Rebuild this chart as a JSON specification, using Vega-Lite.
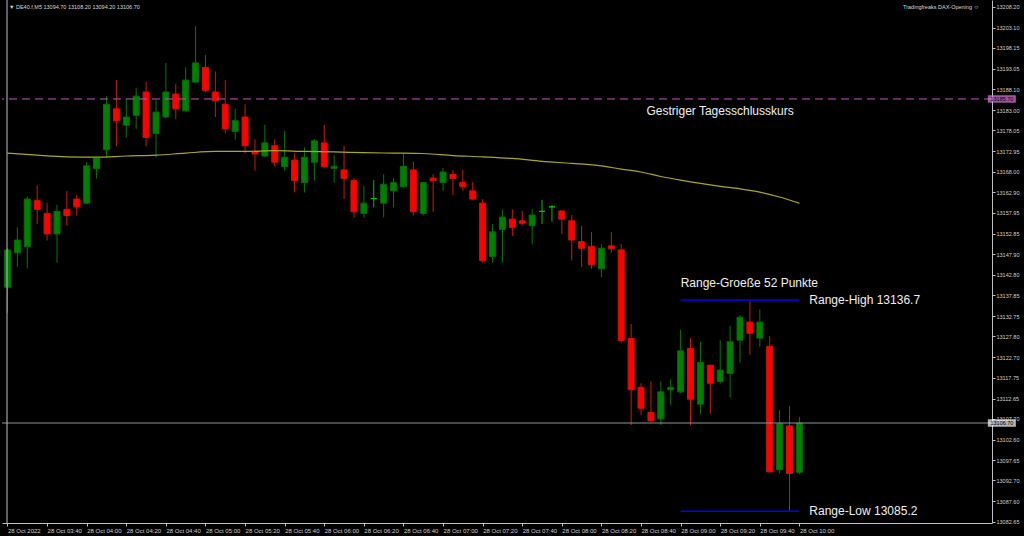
{
  "$schema": "https://vega.github.io/schema/vega-lite/v6.json",
  "width": 990,
  "height": 523,
  "autosize": {"type": "none"},
  "padding": {"left": 2, "top": 0, "right": 32, "bottom": 13},
  "background": "#000000",
  "config": {
    "view": {"stroke": null},
    "axis": {"grid": false, "domainColor": "#c0c0c0", "tickColor": "#c0c0c0", "labelColor": "#d0d0d0", "labelFont": "Liberation Sans", "labelOverlap": false}
  },
  "datasets": {
    "candles": [
      {"t": "2022-10-28T03:20:00", "o": 13139.8, "h": 13149.3, "l": 13133.6, "c": 13148.9},
      {"t": "2022-10-28T03:25:00", "o": 13148.2, "h": 13154.4, "l": 13144.8, "c": 13151.3},
      {"t": "2022-10-28T03:30:00", "o": 13149.7, "h": 13161.9, "l": 13144.4, "c": 13161.3},
      {"t": "2022-10-28T03:35:00", "o": 13160.9, "h": 13164.6, "l": 13155.2, "c": 13158.8},
      {"t": "2022-10-28T03:40:00", "o": 13157.8, "h": 13160.4, "l": 13151.2, "c": 13152.8},
      {"t": "2022-10-28T03:45:00", "o": 13152.8, "h": 13159.9, "l": 13145.8, "c": 13158.3},
      {"t": "2022-10-28T03:50:00", "o": 13158.8, "h": 13163.3, "l": 13154.8, "c": 13157.3},
      {"t": "2022-10-28T03:55:00", "o": 13161.3, "h": 13162.3, "l": 13157.3, "c": 13159.4},
      {"t": "2022-10-28T04:00:00", "o": 13160.3, "h": 13170.3, "l": 13160.1, "c": 13169.4},
      {"t": "2022-10-28T04:05:00", "o": 13168.7, "h": 13171.4, "l": 13166.3, "c": 13171.3},
      {"t": "2022-10-28T04:10:00", "o": 13173.3, "h": 13186.4, "l": 13171.4, "c": 13184.4},
      {"t": "2022-10-28T04:15:00", "o": 13183.3, "h": 13190.3, "l": 13174.2, "c": 13180.4},
      {"t": "2022-10-28T04:20:00", "o": 13179.3, "h": 13185.9, "l": 13176.3, "c": 13181.3},
      {"t": "2022-10-28T04:25:00", "o": 13181.7, "h": 13188.4, "l": 13178.4, "c": 13186.4},
      {"t": "2022-10-28T04:30:00", "o": 13187.4, "h": 13189.9, "l": 13174.2, "c": 13176.3},
      {"t": "2022-10-28T04:35:00", "o": 13177.3, "h": 13185.4, "l": 13171.4, "c": 13182.5},
      {"t": "2022-10-28T04:40:00", "o": 13181.3, "h": 13194.5, "l": 13181.0, "c": 13187.4},
      {"t": "2022-10-28T04:45:00", "o": 13186.9, "h": 13189.4, "l": 13180.8, "c": 13183.3},
      {"t": "2022-10-28T04:50:00", "o": 13182.8, "h": 13193.4, "l": 13182.6, "c": 13190.3},
      {"t": "2022-10-28T04:55:00", "o": 13189.8, "h": 13203.5, "l": 13189.6, "c": 13194.5},
      {"t": "2022-10-28T05:00:00", "o": 13193.4, "h": 13196.4, "l": 13187.3, "c": 13187.8},
      {"t": "2022-10-28T05:05:00", "o": 13187.4, "h": 13192.4, "l": 13181.3, "c": 13185.3},
      {"t": "2022-10-28T05:10:00", "o": 13184.4, "h": 13190.3, "l": 13177.3, "c": 13178.4},
      {"t": "2022-10-28T05:15:00", "o": 13177.8, "h": 13183.3, "l": 13175.8, "c": 13180.4},
      {"t": "2022-10-28T05:20:00", "o": 13181.3, "h": 13184.4, "l": 13172.4, "c": 13174.3},
      {"t": "2022-10-28T05:25:00", "o": 13172.8, "h": 13175.9, "l": 13168.2, "c": 13172.3},
      {"t": "2022-10-28T05:30:00", "o": 13171.8, "h": 13179.4, "l": 13171.5, "c": 13175.0},
      {"t": "2022-10-28T05:35:00", "o": 13174.3, "h": 13175.9, "l": 13169.2, "c": 13170.3},
      {"t": "2022-10-28T05:40:00", "o": 13169.2, "h": 13177.9, "l": 13168.2, "c": 13171.5},
      {"t": "2022-10-28T05:45:00", "o": 13170.8, "h": 13172.5, "l": 13162.9, "c": 13165.8},
      {"t": "2022-10-28T05:50:00", "o": 13165.3, "h": 13173.9, "l": 13162.9, "c": 13171.5},
      {"t": "2022-10-28T05:55:00", "o": 13170.3, "h": 13175.9, "l": 13165.8, "c": 13175.5},
      {"t": "2022-10-28T06:00:00", "o": 13175.0, "h": 13179.4, "l": 13169.0, "c": 13169.2},
      {"t": "2022-10-28T06:05:00", "o": 13168.8, "h": 13172.0, "l": 13165.3, "c": 13169.3},
      {"t": "2022-10-28T06:10:00", "o": 13168.4, "h": 13174.3, "l": 13161.3, "c": 13166.3},
      {"t": "2022-10-28T06:15:00", "o": 13165.8, "h": 13166.4, "l": 13156.8, "c": 13158.2},
      {"t": "2022-10-28T06:20:00", "o": 13157.8, "h": 13164.5, "l": 13156.8, "c": 13160.3},
      {"t": "2022-10-28T06:25:00", "o": 13161.4, "h": 13165.9, "l": 13159.3, "c": 13161.4},
      {"t": "2022-10-28T06:30:00", "o": 13160.3, "h": 13167.4, "l": 13156.8, "c": 13164.9},
      {"t": "2022-10-28T06:35:00", "o": 13163.3, "h": 13166.4, "l": 13159.3, "c": 13165.3},
      {"t": "2022-10-28T06:40:00", "o": 13164.3, "h": 13172.5, "l": 13164.1, "c": 13169.3},
      {"t": "2022-10-28T06:45:00", "o": 13168.4, "h": 13170.4, "l": 13157.3, "c": 13158.2},
      {"t": "2022-10-28T06:50:00", "o": 13157.8, "h": 13165.4, "l": 13157.3, "c": 13165.3},
      {"t": "2022-10-28T06:55:00", "o": 13166.4, "h": 13167.4, "l": 13158.2, "c": 13165.8},
      {"t": "2022-10-28T07:00:00", "o": 13165.3, "h": 13168.9, "l": 13163.3, "c": 13167.9},
      {"t": "2022-10-28T07:05:00", "o": 13167.3, "h": 13168.4, "l": 13162.2, "c": 13166.3},
      {"t": "2022-10-28T07:10:00", "o": 13165.4, "h": 13168.4, "l": 13163.3, "c": 13164.3},
      {"t": "2022-10-28T07:15:00", "o": 13163.3, "h": 13165.4, "l": 13161.1, "c": 13161.3},
      {"t": "2022-10-28T07:20:00", "o": 13160.3, "h": 13161.3, "l": 13145.8, "c": 13146.3},
      {"t": "2022-10-28T07:25:00", "o": 13147.3, "h": 13155.2, "l": 13145.8, "c": 13153.3},
      {"t": "2022-10-28T07:30:00", "o": 13153.9, "h": 13158.8, "l": 13145.8, "c": 13156.9},
      {"t": "2022-10-28T07:35:00", "o": 13156.4, "h": 13158.8, "l": 13152.3, "c": 13154.4},
      {"t": "2022-10-28T07:40:00", "o": 13156.0, "h": 13158.4, "l": 13154.9, "c": 13155.4},
      {"t": "2022-10-28T07:45:00", "o": 13154.8, "h": 13158.8, "l": 13150.3, "c": 13157.4},
      {"t": "2022-10-28T07:50:00", "o": 13158.3, "h": 13161.1, "l": 13155.2, "c": 13158.3},
      {"t": "2022-10-28T07:55:00", "o": 13159.4, "h": 13159.8, "l": 13155.8, "c": 13159.4},
      {"t": "2022-10-28T08:00:00", "o": 13158.4, "h": 13158.5, "l": 13152.8, "c": 13156.4},
      {"t": "2022-10-28T08:05:00", "o": 13156.0, "h": 13157.4, "l": 13146.3, "c": 13151.3},
      {"t": "2022-10-28T08:10:00", "o": 13150.9, "h": 13154.8, "l": 13144.7, "c": 13149.3},
      {"t": "2022-10-28T08:15:00", "o": 13149.8, "h": 13153.3, "l": 13144.3, "c": 13145.3},
      {"t": "2022-10-28T08:20:00", "o": 13144.3, "h": 13150.3, "l": 13142.2, "c": 13149.3},
      {"t": "2022-10-28T08:25:00", "o": 13149.9, "h": 13153.3, "l": 13148.2, "c": 13149.2},
      {"t": "2022-10-28T08:30:00", "o": 13148.9, "h": 13150.3, "l": 13126.3, "c": 13126.8},
      {"t": "2022-10-28T08:35:00", "o": 13127.3, "h": 13130.8, "l": 13106.2, "c": 13114.8},
      {"t": "2022-10-28T08:40:00", "o": 13115.4, "h": 13116.4, "l": 13108.7, "c": 13110.3},
      {"t": "2022-10-28T08:45:00", "o": 13109.3, "h": 13116.8, "l": 13107.0, "c": 13107.2},
      {"t": "2022-10-28T08:50:00", "o": 13107.7, "h": 13116.8, "l": 13106.2, "c": 13114.3},
      {"t": "2022-10-28T08:55:00", "o": 13114.8, "h": 13117.4, "l": 13111.1, "c": 13115.4},
      {"t": "2022-10-28T09:00:00", "o": 13114.3, "h": 13129.4, "l": 13114.0, "c": 13124.3},
      {"t": "2022-10-28T09:05:00", "o": 13124.9, "h": 13127.4, "l": 13106.2, "c": 13112.5},
      {"t": "2022-10-28T09:10:00", "o": 13111.3, "h": 13126.5, "l": 13108.9, "c": 13121.5},
      {"t": "2022-10-28T09:15:00", "o": 13120.8, "h": 13120.9, "l": 13108.9, "c": 13116.4},
      {"t": "2022-10-28T09:20:00", "o": 13116.8, "h": 13126.9, "l": 13116.4, "c": 13119.6},
      {"t": "2022-10-28T09:25:00", "o": 13118.8, "h": 13130.4, "l": 13113.0, "c": 13126.5},
      {"t": "2022-10-28T09:30:00", "o": 13126.9, "h": 13133.0, "l": 13121.4, "c": 13132.5},
      {"t": "2022-10-28T09:35:00", "o": 13131.3, "h": 13136.7, "l": 13123.3, "c": 13128.6},
      {"t": "2022-10-28T09:40:00", "o": 13127.4, "h": 13134.4, "l": 13125.3, "c": 13131.3},
      {"t": "2022-10-28T09:45:00", "o": 13125.4, "h": 13127.9, "l": 13094.6, "c": 13094.8},
      {"t": "2022-10-28T09:50:00", "o": 13095.3, "h": 13109.9, "l": 13094.4, "c": 13106.5},
      {"t": "2022-10-28T09:55:00", "o": 13106.0, "h": 13110.9, "l": 13085.2, "c": 13094.4},
      {"t": "2022-10-28T10:00:00", "o": 13094.7, "h": 13108.2, "l": 13094.2, "c": 13106.7}
    ],
    "ma": [
      {"t": "2022-10-28T03:20:00", "ma": 13172.5},
      {"t": "2022-10-28T03:35:00", "ma": 13172.0},
      {"t": "2022-10-28T03:50:00", "ma": 13171.6},
      {"t": "2022-10-28T04:05:00", "ma": 13171.5},
      {"t": "2022-10-28T04:20:00", "ma": 13171.8},
      {"t": "2022-10-28T04:35:00", "ma": 13172.0},
      {"t": "2022-10-28T04:50:00", "ma": 13172.5},
      {"t": "2022-10-28T05:05:00", "ma": 13172.9},
      {"t": "2022-10-28T05:20:00", "ma": 13172.9},
      {"t": "2022-10-28T05:35:00", "ma": 13173.1},
      {"t": "2022-10-28T05:50:00", "ma": 13172.9},
      {"t": "2022-10-28T06:05:00", "ma": 13172.8},
      {"t": "2022-10-28T06:20:00", "ma": 13172.6},
      {"t": "2022-10-28T06:35:00", "ma": 13172.5},
      {"t": "2022-10-28T06:50:00", "ma": 13172.4},
      {"t": "2022-10-28T07:05:00", "ma": 13171.9},
      {"t": "2022-10-28T07:20:00", "ma": 13171.6},
      {"t": "2022-10-28T07:35:00", "ma": 13171.2},
      {"t": "2022-10-28T07:50:00", "ma": 13170.5},
      {"t": "2022-10-28T08:05:00", "ma": 13170.0},
      {"t": "2022-10-28T08:20:00", "ma": 13169.4},
      {"t": "2022-10-28T08:30:00", "ma": 13168.6},
      {"t": "2022-10-28T08:40:00", "ma": 13167.9},
      {"t": "2022-10-28T08:50:00", "ma": 13166.8},
      {"t": "2022-10-28T09:00:00", "ma": 13165.9},
      {"t": "2022-10-28T09:10:00", "ma": 13165.1},
      {"t": "2022-10-28T09:20:00", "ma": 13164.4},
      {"t": "2022-10-28T09:30:00", "ma": 13163.8},
      {"t": "2022-10-28T09:40:00", "ma": 13163.0},
      {"t": "2022-10-28T09:50:00", "ma": 13161.8},
      {"t": "2022-10-28T10:00:00", "ma": 13160.3}
    ]
  },
  "layer": [
    {
      "data": {"name": "candles"},
      "mark": {"type": "rule", "strokeWidth": 1},
      "encoding": {
        "x": {
          "field": "t", "type": "temporal", "title": null,
          "scale": {"domain": [{"year": 2022, "month": 10, "date": 28, "hours": 3, "minutes": 19, "seconds": 45}, {"year": 2022, "month": 10, "date": 28, "hours": 11, "minutes": 34, "seconds": 45}], "nice": false},
          "axis": {
            "title": null, "orient": "bottom", "tickCount": 100,
            "values": [
              {"year": 2022, "month": 10, "date": 28, "hours": 3, "minutes": 20},
              {"year": 2022, "month": 10, "date": 28, "hours": 3, "minutes": 40},
              {"year": 2022, "month": 10, "date": 28, "hours": 4, "minutes": 0},
              {"year": 2022, "month": 10, "date": 28, "hours": 4, "minutes": 20},
              {"year": 2022, "month": 10, "date": 28, "hours": 4, "minutes": 40},
              {"year": 2022, "month": 10, "date": 28, "hours": 5, "minutes": 0},
              {"year": 2022, "month": 10, "date": 28, "hours": 5, "minutes": 20},
              {"year": 2022, "month": 10, "date": 28, "hours": 5, "minutes": 40},
              {"year": 2022, "month": 10, "date": 28, "hours": 6, "minutes": 0},
              {"year": 2022, "month": 10, "date": 28, "hours": 6, "minutes": 20},
              {"year": 2022, "month": 10, "date": 28, "hours": 6, "minutes": 40},
              {"year": 2022, "month": 10, "date": 28, "hours": 7, "minutes": 0},
              {"year": 2022, "month": 10, "date": 28, "hours": 7, "minutes": 20},
              {"year": 2022, "month": 10, "date": 28, "hours": 7, "minutes": 40},
              {"year": 2022, "month": 10, "date": 28, "hours": 8, "minutes": 0},
              {"year": 2022, "month": 10, "date": 28, "hours": 8, "minutes": 20},
              {"year": 2022, "month": 10, "date": 28, "hours": 8, "minutes": 40},
              {"year": 2022, "month": 10, "date": 28, "hours": 9, "minutes": 0},
              {"year": 2022, "month": 10, "date": 28, "hours": 9, "minutes": 20},
              {"year": 2022, "month": 10, "date": 28, "hours": 9, "minutes": 40},
              {"year": 2022, "month": 10, "date": 28, "hours": 10, "minutes": 0}
            ],
            "labelExpr": "timeFormat(datum.value, '%H:%M') == '03:20' ? '28 Oct 2022' : timeFormat(datum.value, '%d %b %H:%M')",
            "labelAlign": "left", "labelBaseline": "top", "labelPadding": 1, "labelFontSize": 6,
            "labelOverlap": false, "labelFlush": false, "tickSize": 3
          }
        },
        "y": {
          "field": "l", "type": "quantitative", "title": null,
          "scale": {"domain": [13082.32, 13209.83], "zero": false, "nice": false},
          "axis": {
            "title": null, "orient": "right", "tickCount": 100,
            "values": [13208.20, 13203.10, 13198.15, 13193.05, 13188.10, 13183.00, 13178.05, 13172.95, 13168.00, 13162.90, 13157.95, 13152.85, 13147.90, 13142.80, 13137.85, 13132.75, 13127.80, 13122.70, 13117.75, 13112.65, 13107.70, 13102.60, 13097.65, 13092.70, 13087.60, 13082.65],
            "format": ".2f", "labelFontSize": 5.5, "labelPadding": 1, "tickSize": 3,
            "labelOverlap": false, "labelFlush": false, "labelBaseline": "middle"
          }
        },
        "y2": {"field": "h"},
        "color": {
          "condition": [
            {"test": "datum.c == datum.o", "value": "#00c000"},
            {"test": "datum.c > datum.o", "value": "#007a00"}
          ],
          "value": "#d01800"
        }
      }
    },
    {
      "data": {"name": "candles"},
      "mark": {"type": "bar", "size": 6, "strokeWidth": 1},
      "encoding": {
        "x": {"field": "t", "type": "temporal", "title": null},
        "y": {"field": "o", "type": "quantitative", "title": null},
        "y2": {"field": "c"},
        "fill": {
          "condition": [
            {"test": "datum.c == datum.o", "value": "#00c000"},
            {"test": "datum.c > datum.o", "value": "#008000"}
          ],
          "value": "#ff0000"
        },
        "stroke": {
          "condition": [
            {"test": "datum.c == datum.o", "value": "#00c000"},
            {"test": "datum.c > datum.o", "value": "#006e00"}
          ],
          "value": "#d81000"
        }
      }
    },
    {
      "data": {"values": [{"level": "Gestriger Tagesschlusskurs", "price": 13185.7}]},
      "mark": {"type": "rule", "color": "#c850c8", "strokeWidth": 1, "strokeDash": [8, 5]},
      "encoding": {"y": {"field": "price", "type": "quantitative", "title": null}}
    },
    {
      "data": {"values": [{"level": "Aktueller Kurs", "price": 13106.7}]},
      "mark": {"type": "rule", "color": "#8a949e", "strokeWidth": 1},
      "encoding": {"y": {"field": "price", "type": "quantitative", "title": null}}
    },
    {
      "data": {"name": "ma"},
      "mark": {"type": "line", "color": "#a8a81e", "strokeWidth": 1.2, "interpolate": "monotone"},
      "encoding": {
        "x": {"field": "t", "type": "temporal", "title": null},
        "y": {"field": "ma", "type": "quantitative", "title": null}
      }
    },
    {
      "data": {"values": [{"level": "Range-High", "price": 13136.7, "label": "Range-High 13136.7"}, {"level": "Range-Low", "price": 13085.2, "label": "Range-Low 13085.2"}]},
      "layer": [
        {
          "mark": {"type": "rule", "color": "#0000ff", "strokeWidth": 1.6},
          "encoding": {
            "x": {"datum": {"year": 2022, "month": 10, "date": 28, "hours": 9, "minutes": 0}, "title": null},
            "x2": {"datum": {"year": 2022, "month": 10, "date": 28, "hours": 10, "minutes": 0}},
            "y": {"field": "price", "type": "quantitative", "title": null}
          }
        },
        {
          "mark": {"type": "text", "align": "left", "baseline": "middle", "font": "Liberation Sans", "fontSize": 12, "color": "#f0f0f0"},
          "encoding": {
            "x": {"datum": {"year": 2022, "month": 10, "date": 28, "hours": 10, "minutes": 5}, "title": null},
            "y": {"field": "price", "type": "quantitative", "title": null},
            "text": {"field": "label"}
          }
        }
      ]
    },
    {
      "data": {"values": [{"label": "Range-Groeße 52 Punkte"}]},
      "mark": {"type": "text", "align": "left", "baseline": "middle", "font": "Liberation Sans", "fontSize": 12, "color": "#f0f0f0"},
      "encoding": {
        "x": {"datum": {"year": 2022, "month": 10, "date": 28, "hours": 9, "minutes": 0}, "title": null},
        "y": {"datum": 13140.8, "title": null},
        "text": {"field": "label"}
      }
    },
    {
      "data": {"values": [{"label": "Gestriger Tagesschlusskurs"}]},
      "mark": {"type": "text", "align": "left", "baseline": "middle", "font": "Liberation Sans", "fontSize": 12, "color": "#f0f0f0"},
      "encoding": {
        "x": {"datum": {"year": 2022, "month": 10, "date": 28, "hours": 8, "minutes": 42, "seconds": 45}, "title": null},
        "y": {"datum": 13182.8, "title": null},
        "text": {"field": "label"}
      }
    },
    {
      "data": {"values": [{"label": "▼ DE40.f,M5  13094.70 13108.20 13094.20 13106.70"}]},
      "mark": {"type": "text", "align": "left", "baseline": "middle", "font": "Liberation Sans", "fontSize": 5.5, "color": "#d8d8d8"},
      "encoding": {
        "x": {"datum": {"year": 2022, "month": 10, "date": 28, "hours": 3, "minutes": 20, "seconds": 45}, "title": null},
        "y": {"datum": 13208.2, "title": null},
        "text": {"field": "label"}
      }
    },
    {
      "data": {"values": [{"label": "Tradingfreaks DAX-Opening ☺"}]},
      "mark": {"type": "text", "align": "right", "baseline": "middle", "font": "Liberation Sans", "fontSize": 5.5, "color": "#d8d8d8"},
      "encoding": {
        "x": {"datum": {"year": 2022, "month": 10, "date": 28, "hours": 11, "minutes": 30, "seconds": 45}, "title": null},
        "y": {"datum": 13208.2, "title": null},
        "text": {"field": "label"}
      }
    },
    {
      "data": {"values": [{"price": 13185.7, "box": "prev"}, {"price": 13106.7, "box": "last"}]},
      "layer": [
        {
          "mark": {"type": "tick", "orient": "horizontal", "size": 28, "thickness": 7.5},
          "encoding": {
            "x": {"datum": {"year": 2022, "month": 10, "date": 28, "hours": 11, "minutes": 42, "seconds": 15}, "title": null},
            "y": {"field": "price", "type": "quantitative", "title": null},
            "color": {"condition": {"test": "datum.box == 'prev'", "value": "#e07ae0"}, "value": "#ffffff"}
          }
        },
        {
          "mark": {"type": "text", "align": "left", "baseline": "middle", "font": "Liberation Sans", "fontSize": 5.5, "color": "#000000"},
          "encoding": {
            "x": {"datum": {"year": 2022, "month": 10, "date": 28, "hours": 11, "minutes": 36, "seconds": 30}, "title": null},
            "y": {"field": "price", "type": "quantitative", "title": null},
            "text": {"field": "price", "format": ".2f"}
          }
        }
      ]
    },
    {
      "data": {"values": [{}]},
      "mark": {"type": "rule", "color": "#c0c0c0", "strokeWidth": 1},
      "encoding": {
        "x": {"datum": {"year": 2022, "month": 10, "date": 28, "hours": 3, "minutes": 19, "seconds": 45}, "title": null}
      }
    }
  ]
}
